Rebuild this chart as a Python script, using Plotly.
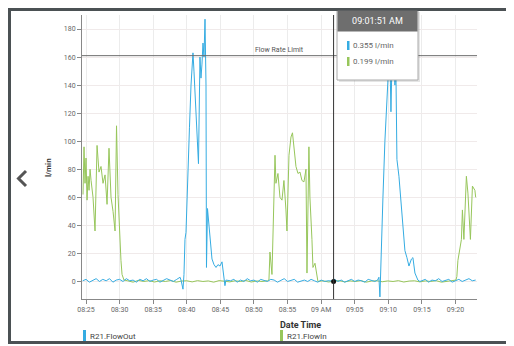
import pandas as pd
import plotly.graph_objects as go

# minutes after 08:00 and l/min readings
flow_out_min = [
    24.5, 25.0, 25.5, 26.0, 26.5, 27.0, 27.5, 28.0, 28.5, 29.0, 29.5, 30.0, 30.5, 31.0, 31.5,
    32.0, 32.5, 33.0, 33.5, 34.0, 34.5, 35.0, 35.5, 36.0, 36.5, 37.0, 37.5, 38.0, 38.5, 39.0,
    39.14, 39.29, 39.43, 39.58, 39.73, 39.88, 40.03, 40.18, 40.4, 40.63, 40.92, 41.07, 41.37,
    41.59, 41.74, 41.96, 42.11, 42.26, 42.41, 42.56, 42.71, 42.86, 42.93, 43.08, 43.3, 43.45,
    43.75, 44.05, 44.35, 44.64, 44.94, 45.24, 45.39, 45.54, 45.68, 45.83,
    46.5, 47.0, 47.5, 48.0, 48.5, 49.0, 49.5, 50.0, 50.5, 51.0, 51.5, 52.0, 52.5, 53.0, 53.5,
    54.0, 54.5, 55.0, 55.5, 56.0, 56.5, 57.0, 57.5, 58.0, 58.5, 59.0, 59.5, 60.0, 60.5, 61.0,
    61.5, 62.0, 62.5, 63.0, 63.5, 64.0, 64.5, 65.0, 65.5, 66.0, 66.5, 67.0, 67.5, 68.0, 68.4,
    68.6, 68.75, 68.9, 69.2, 69.49, 69.79, 70.01, 70.24, 70.39, 70.54, 70.68, 70.83, 70.98,
    71.13, 71.28, 71.58, 71.88, 72.17, 72.47, 72.77, 73.07, 73.44, 73.66, 73.96, 74.4, 74.7, 75.0,
    75.5, 76.0, 76.5, 77.0, 77.5, 78.0, 78.5, 79.0, 79.5, 80.0, 80.5, 81.0, 81.5, 82.0, 82.5, 83.0,
]
flow_out_val = [
    0.5, 1.5, -0.5, 1.0, 2.0, 0.0, 1.5, 0.5, 2.0, -0.5, 1.0, 1.5, 0.0, 2.0, 0.5,
    1.0, -0.5, 1.5, 0.5, 2.0, 0.0, 1.0, 1.5, -0.5, 0.5, 2.0, 1.0, 0.0, 1.5, 3.0,
    1, -2, -5.5, 5, 30, 35, 60, 80, 110, 140, 163, 150, 120,
    104, 84, 160, 145, 155, 170, 160, 187, 140, 10, 52, 40, 28,
    16, 12, 10, 12, 11, 14, 8, 0, -3, 1,
    0.5, 1.5, -0.5, 1.0, 0.0, 2.0, 0.5, 1.0, -0.5, 1.5, 0.5, 0.0, 1.5, 1.0, -0.5,
    0.5, 2.0, 0.0, 1.0, 1.5, -0.5, 0.5, 1.0, 0.0, 1.5, 0.5, -0.5, 1.0, 0.0, 0.5,
    0.4, 1.5, 0.0, 1.0, -0.5, 0.5, 1.5, 0.0, 1.0, 0.5, -0.5, 1.5, 0.5, 0.0, 1.0,
    3, -11, 20, 60, 100, 134, 150, 160, 121, 155, 145, 158,
    140, 150, 87, 75, 56, 44, 22, 17, 11, 16, 17, 6, 1, 0, 0.5,
    1.5, -0.5, 1.0, 0.5, 2.0, 0.0, 1.0, 1.5, -0.5, 0.5, 1.5, 0.0, 1.0, 2.0, 0.5, 1.0,
]

flow_in_min = [
    24.55, 24.7, 24.85, 25.0, 25.15, 25.3, 25.45, 25.6, 25.75, 26.04, 26.34, 26.64, 26.93,
    27.23, 27.53, 27.83, 28.13, 28.42, 28.72, 29.02, 29.32, 29.54, 29.76, 29.99, 30.2, 30.36,
    30.65, 31.2, 32.0, 32.8, 33.6, 34.4, 35.2, 36.0, 36.8, 37.6, 38.4, 39.2, 40.0, 40.8, 41.6,
    42.4, 43.2, 44.0, 44.8, 45.6, 46.4, 47.2, 48.0, 48.8, 49.6, 50.4, 51.2, 52.0,
    52.23, 52.38, 52.68, 53.13, 53.27, 53.57, 53.87, 54.17, 54.46, 54.76, 54.91, 55.21, 55.51,
    55.73, 55.95, 56.25, 56.55, 56.85, 57.14, 57.44, 57.74, 57.89, 58.18, 58.33, 58.63, 58.78,
    59.08, 59.38, 59.52, 60.3, 61.1, 61.9, 62.7, 63.5, 64.3, 65.1, 65.9, 66.7, 67.5, 68.3, 69.1,
    69.9, 70.7, 71.5, 72.3, 73.1, 73.9, 74.7, 75.5, 76.3, 77.1, 77.9, 78.7, 79.5,
    80.06, 80.2, 80.36, 80.88, 81.03, 81.25, 81.62, 81.85, 82.22, 82.52, 82.89, 83.0,
]
flow_in_val = [
    62, 96, 70, 88, 58, 75, 65, 80, 72, 60, 36, 97, 78,
    82, 70, 76, 55, 95, 60, 50, 36, 111, 62, 30, 15, 5,
    1, 0.5, -0.5, 0.8, 0.0, 0.6, -0.4, 0.5, 0.0, 0.7, -0.5, 0.3, 0.5, -0.3, 0.6,
    0.0, 0.4, -0.5, 0.6, 0.2, -0.3, 0.5, 0.0, 0.7, -0.4, 0.4, 0.0, 0.5,
    1, 21, 5, 90, 70, 77, 60, 58, 72, 51, 36, 90, 103,
    106, 95, 82, 77, 78, 72, 71, 80, 6, 96, 60, 30, 10,
    13, 2, 0, 0.5, -0.4, 0.2, 0.6, -0.3, 0.4, 0.0, 0.6, -0.5, 0.3, 0.5, -0.2,
    0.4, 0.0, 0.6, -0.4, 0.3, 0.5, -0.3, 0.4, 0.0, 0.6, -0.5, 0.2, 0.5,
    1, 3.5, 15, 30, 51, 30, 75, 63, 30, 68, 65, 60,
]

limit_value = 161
cursor_min = 61.85
cursor_label = "09:01:51 AM"
cursor_out = "0.355 l/min"
cursor_in = "0.199 l/min"

tick_min = [25, 30, 35, 40, 45, 50, 55, 60, 65, 70, 75, 80]
tick_text = ["08:25", "08:30", "08:35", "08:40", "08:45", "08:50", "08:55",
             "09 AM", "09:05", "09:10", "09:15", "09:20"]

BLUE = "#35ace2"
GREEN = "#97c65b"
W, H = 514, 346
L, R, T, B = 82, 37, 15, 47
PAGE_PAD = 8  # the page body margin pushes the figure 8px right and down

base = pd.Timestamp("2021-03-01 08:00")


def to_time(mins):
    return base + pd.to_timedelta(pd.Series(mins), unit="m")


# screen pixel -> paper coordinate
def px(x):
    return (x - L) / (W - L - R)


def py(y):
    return (H - B - y) / (H - T - B)


def paper_rect(x0, y0, x1, y1, **kw):
    fig.add_shape(type="rect", xref="paper", yref="paper",
                  x0=px(x0), x1=px(x1), y0=py(y1), y1=py(y0), **kw)


def paper_text(x, y, text, xanchor="center", **kw):
    # explicit anchors: "auto" would flip them depending on paper position
    fig.add_annotation(x=px(x), y=py(y), xref="paper", yref="paper", text=text,
                       xanchor=xanchor, yanchor="middle", showarrow=False, **kw)


def chevron(pts, color, width):
    path = "M " + " L ".join(f"{px(a):.5f},{py(b):.5f}" for a, b in pts)
    fig.add_shape(type="path", xref="paper", yref="paper", path=path,
                  line=dict(color=color, width=width))


fig = go.Figure()
fig.add_trace(go.Scatter(x=to_time(flow_in_min), y=flow_in_val, mode="lines",
                         line=dict(color=GREEN, width=1), name="R21.FlowIn"))
fig.add_trace(go.Scatter(x=to_time(flow_out_min), y=flow_out_val, mode="lines",
                         line=dict(color=BLUE, width=1), name="R21.FlowOut"))

cur_t = base + pd.Timedelta(minutes=cursor_min)
fig.add_trace(go.Scatter(x=[cur_t], y=[0], mode="markers",
                         marker=dict(color="#111", size=5), showlegend=False))

# limit line + cursor line
fig.add_shape(type="line", xref="paper", x0=0, x1=1, y0=limit_value, y1=limit_value,
              line=dict(color="#6b6b6b", width=1))
fig.add_annotation(x=0.5, xref="paper", y=limit_value, xanchor="center", yanchor="bottom",
                   showarrow=False, text="Flow Rate Limit", font=dict(size=7, color="#555"))
fig.add_shape(type="line", x0=cur_t, x1=cur_t, yref="paper", y0=0, y1=1,
              line=dict(color="#333", width=1))

# tooltip box
paper_rect(339, 12, 420, 82, fillcolor="rgba(0,0,0,0.10)", line=dict(width=0))
paper_rect(337, 10, 418, 80, fillcolor="white", line=dict(color="#aaa", width=1))
paper_text(377.5, 20.5, cursor_label, width=79, height=20, bgcolor="#6e6e6e",
           borderpad=0, font=dict(size=9, color="white"))
paper_rect(347, 41, 349.5, 50, fillcolor=BLUE, line=dict(width=0))
paper_rect(347, 57, 349.5, 66, fillcolor=GREEN, line=dict(width=0))
paper_text(351, 45.5, cursor_out, xanchor="left", font=dict(size=8, color="#666"))
paper_text(351, 61.5, cursor_in, xanchor="left", font=dict(size=8, color="#666"))

# titles and legend
paper_text(300, 325, "<b>Date Time</b>", font=dict(size=9, color="#333"))
paper_text(48, 168, "<b>l/min</b>", textangle=-90, font=dict(size=8, color="#333"))
paper_rect(83, 330, 86, 343, fillcolor=BLUE, line=dict(width=0))
paper_text(88, 336, "R21.FlowOut", xanchor="left", font=dict(size=8, color="#444"))
paper_rect(280, 330, 283, 343, fillcolor=GREEN, line=dict(width=0))
paper_text(285, 336, "R21.FlowIn", xanchor="left", font=dict(size=8, color="#444"))

# outer frame and carousel arrows
paper_rect(9.5, 9.5, 530, 342.5, line=dict(color="#4b5154", width=3))
chevron([(26, 171), (18.5, 178.5), (26, 186)], "#555", 3)
chevron([(508, 175), (513, 181), (508, 187)], "#c8c8c8", 2)

fig.update_layout(
    width=W - PAGE_PAD, height=H - PAGE_PAD,
    margin=dict(l=L - PAGE_PAD, r=R, t=T - PAGE_PAD, b=B),
    paper_bgcolor="white", plot_bgcolor="white",
    showlegend=False,
    font=dict(family="Roboto, sans-serif", size=7, color="#555"),
)
fig.update_xaxes(
    range=[base + pd.Timedelta(minutes=24.4), base + pd.Timedelta(minutes=83.2)],
    tickvals=list(to_time(tick_min)), ticktext=tick_text,
    showgrid=True, gridcolor="#ececec", gridwidth=1,
    showline=True, linecolor="#888", linewidth=1,
    ticks="outside", ticklen=4, tickcolor="#888",
    tickfont=dict(size=7, color="#666"), zeroline=False, automargin=False,
)
fig.update_yaxes(
    range=[-12.5, 190], tickvals=list(range(0, 181, 20)),
    showgrid=True, gridcolor="#f0eaea", gridwidth=1,
    showline=True, linecolor="#888", linewidth=1,
    ticks="outside", ticklen=4, tickcolor="#888",
    tickfont=dict(size=7, color="#666"), zeroline=False, automargin=False,
)

fig.write_html("out.html")
